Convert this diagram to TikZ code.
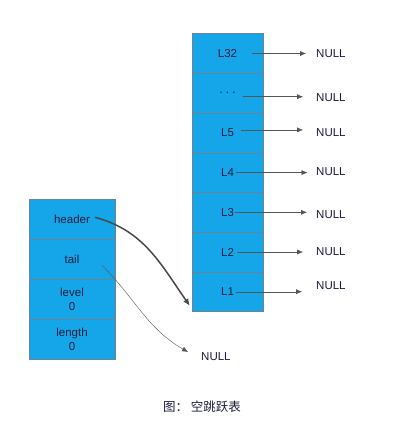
\documentclass[tikz,border=0pt]{standalone}
\usepackage{fontspec}
\setmainfont{Liberation Sans}
\newfontfamily\cjk{Noto Sans CJK SC}
\usetikzlibrary{arrows.meta}
\definecolor{cellblue}{RGB}{20,166,232}
\definecolor{cellline}{RGB}{110,130,145}
\definecolor{ink}{RGB}{28,28,64}
\definecolor{ptrgray}{RGB}{85,85,85}
\begin{document}
\begin{tikzpicture}[x=1pt,y=-1pt,font=\fontsize{11.5}{13.5}\selectfont,text=ink,
	lvl/.style={rectangle, draw=cellline, fill=cellblue, minimum width=71pt, minimum height=39.7pt, inner sep=0pt},
	fld/.style={rectangle, draw=cellline, fill=cellblue, minimum width=85.4pt, minimum height=40pt, inner sep=0pt, align=center},
	null/.style={anchor=west, inner sep=0pt},
	ptr/.style={draw=ptrgray, -{Latex[length=6pt,width=5pt]}}]
	\useasboundingbox (0,0) rectangle (400,430);
	% skip list levels
	\node (L32) at (227.5,  53.5)	[lvl]	{L32};
	\node (Ldots) at (227.5,  93.2)	[lvl]	{.\ .\ .};
	\node (L5) at (227.5, 132.9)	[lvl]	{L5};
	\node (L4) at (227.5, 172.6)	[lvl]	{L4};
	\node (L3) at (227.5, 212.3)	[lvl]	{L3};
	\node (L2) at (227.5, 252.0)	[lvl]	{L2};
	\node (L1) at (227.5, 291.7)	[lvl]	{L1};
	% list fields
	\node (header) at (72, 219.3)	[fld]	{header};
	\node (tail) at (72, 259.3)	[fld]	{tail};
	\node (level) at (72, 299.3)	[fld]	{level\\0};
	\node (length) at (72, 339.3)	[fld]	{length\\0};
	% null targets
	\node (N32) at (316,  54)	[null]	{NULL};
	\node (Ndots) at (316,  98)	[null]	{NULL};
	\node (N5) at (316, 133)	[null]	{NULL};
	\node (N4) at (316, 172)	[null]	{NULL};
	\node (N3) at (316, 215)	[null]	{NULL};
	\node (N2) at (316, 252)	[null]	{NULL};
	\node (N1) at (316, 286)	[null]	{NULL};
	\node (Ntail) at (201, 357)	[null]	{NULL};
	\draw[ptr] ([xshift=24]L32.center) -- ([xshift=-10]N32.west |- L32.center);
	\draw[ptr] ([xshift=15,yshift=-3.5]Ldots.center) -- ([xshift=-13,yshift=-3.5]Ndots.west |- Ldots.center);
	\draw[ptr] ([xshift=13.5,yshift=3]L5.center) -- ([xshift=-13,yshift=3]N5.west |- L5.center);
	\draw[ptr] ([xshift=8.5]L4.center) -- ([xshift=-8.5]N4.west |- L4.center);
	\draw[ptr] ([xshift=7.5]L3.center) -- ([xshift=-9]N3.west |- L3.center);
	\draw[ptr] ([xshift=9.5]L2.center) -- ([xshift=-13]N2.west |- L2.center);
	\draw[ptr] ([xshift=8.5]L1.center) -- ([xshift=-14]N1.west |- L1.center);
	\draw[ptr, draw=ptrgray!85!black, line width=1.5pt, -{Latex[length=7pt,width=6pt]}] ([xshift=23,yshift=2]header.center) to[out=-15, in=125] ([xshift=-2,yshift=6]L1.south west);
	\draw[ptr] ([xshift=30,yshift=-6]tail.center) to[out=-45, in=150] ([xshift=-13,yshift=5]Ntail.west);
	\node (caption) at (202, 407)	{\cjk\fontsize{12.5}{14}\selectfont 图：\ 空跳跃表};
\end{tikzpicture}
\end{document}
